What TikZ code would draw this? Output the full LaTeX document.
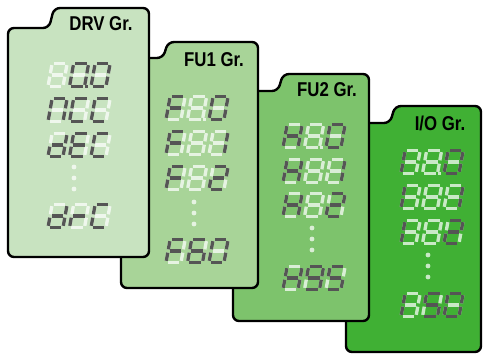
\documentclass[tikz,border=0pt]{standalone}
\usepackage{fontspec}
\usepackage{tikz}
\newfontfamily\grpfont{Liberation Sans}

\definecolor{drvgreen}{RGB}{200,227,192}
\definecolor{fuonegreen}{RGB}{168,212,152}
\definecolor{futwogreen}{RGB}{125,195,108}
\definecolor{iogreen}{RGB}{64,176,52}
\definecolor{segdark}{RGB}{85,85,85}

\tikzset{
  card/.style={draw=black,line width=2.4pt,rounded corners=6pt},
  grplabel/.style={font=\grpfont\bfseries\fontsize{20}{20}\selectfont,xscale=0.84,anchor=base,inner sep=0pt},
  segoff/.style={draw=white,draw opacity=0.72,line width=3.3pt,shorten <=1.7pt,shorten >=1.7pt},
  segon/.style={draw=segdark,line width=3.3pt,shorten <=1.7pt,shorten >=1.7pt},
  dotfill/.style={fill=white,fill opacity=0.72},
}

% group card: left, body top, right, bottom, tab x, tab top, colour
\newcommand\grpcard[7]{%
  \draw[card,fill=#7] (#1,{(#2+#4)/2}) -- (#1,#2) -- (#5,#2) -- (#5+5,#6) -- (#3,#6) -- (#3,#4) -- (#1,#4) -- cycle;}

% seven segment digit: bottom left x, y, lit segments
\newcommand\segdigit[3]{%
  \begin{scope}[shift={(#1+1,#2-0.5)},yscale=-1,xslant=-0.18]
    \foreach \s/\p/\q in {a/{0,23}/{15,23},b/{15,23}/{15,11.5},c/{15,11.5}/{15,0},
        d/{0,0}/{15,0},e/{0,0}/{0,11.5},f/{0,11.5}/{0,23},g/{0,11.5}/{15,11.5}}
      {\coordinate (seg\s1) at (\p); \coordinate (seg\s2) at (\q);
       \draw[segoff] (seg\s1) -- (seg\s2);}
    \def\litlist{#3}%
    \ifx\litlist\empty\else
      \foreach \s in {#3} \draw[segon] (seg\s1) -- (seg\s2);
    \fi
  \end{scope}}

% three digits in a row
\newcommand\segrow[5]{%
  \segdigit{#1}{#2}{#3}\segdigit{#1+21.5}{#2}{#4}\segdigit{#1+43}{#2}{#5}}

% decimal point after the middle digit
\newcommand\segpoint[3]{\fill[#3] (#1+38.2,#2-2.1) rectangle (#1+41.4,#2+1.1);}

% three dots between rows
\newcommand\segdots[2]{%
  \foreach \k in {0,1,2} \fill[dotfill] (#1,#2+11*\k) circle (2.4);}

\begin{document}
\begin{tikzpicture}[x=1pt,y=-1pt]
  \useasboundingbox (0,0) rectangle (483,355);

  % I/O group.
  \grpcard{346}{123}{481}{352}{390}{106}{iogreen}
  \node[grplabel] (iolabel) at (440,131) {I/O Gr.};
  \segrow{400}{174}{e,f}{}{a,b,c,d,e,f}
  \segpoint{400}{174}{dotfill}
  \segrow{400}{209}{e,f}{}{b,c}
  \segrow{400}{244}{e,f}{}{a,b,d,e,g}
  \segdots{428}{255}
  \segrow{400}{317}{e,f}{a,c,d,f,g}{a,b,c,d,e,f}

  % FU2 group.
  \grpcard{233}{91}{369}{321}{278}{74}{futwogreen}
  \node[grplabel] (futwolabel) at (327,97) {FU2 Gr.};
  \segrow{282}{148}{b,c,e,f,g}{}{a,b,c,d,e,f}
  \segpoint{282}{148}{dotfill}
  \segrow{282}{183}{b,c,e,f,g}{}{b,c}
  \segrow{282}{217}{b,c,e,f,g}{}{a,b,d,e,g}
  \segdots{312}{228}
  \segrow{282}{290}{b,c,e,f,g}{a,b,c,d,f,g}{a,c,d,f,g}

  % FU1 group.
  \grpcard{121}{58}{258}{288}{163}{42}{fuonegreen}
  \node[grplabel] (fuonelabel) at (214,67) {FU1 Gr.};
  \segrow{165}{120}{a,e,f,g}{}{a,b,c,d,e,f}
  \segpoint{165}{120}{dotfill}
  \segrow{165}{155}{a,e,f,g}{}{b,c}
  \segrow{165}{190}{a,e,f,g}{}{a,b,d,e,g}
  \segdots{194}{202}
  \segrow{165}{263}{a,e,f,g}{a,c,d,e,f,g}{a,b,c,d,e,f}

  % Drive group.
  \grpcard{8}{28}{149}{257}{49}{8}{drvgreen}
  \node[grplabel] (drvlabel) at (101,31) {DRV Gr.};
  \segrow{47}{87}{}{a,b,c,d,e,f}{a,b,c,d,e,f}
  \segpoint{47}{87}{segdark}
  \segrow{47}{122}{a,b,c,e,f}{a,d,e,f}{a,d,e,f}
  \segrow{47}{157}{b,c,d,e,g}{a,d,e,f,g}{a,d,e,f}
  \segdots{74}{167}
  \segrow{47}{228}{b,c,d,e,g}{e,g}{a,d,e,f}
\end{tikzpicture}
\end{document}
